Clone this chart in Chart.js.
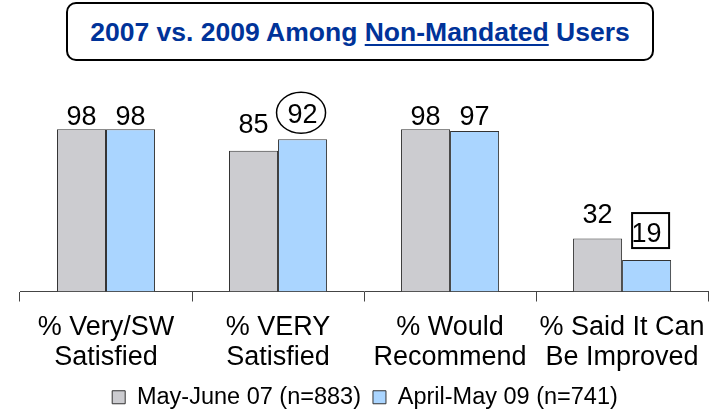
<!DOCTYPE html>
<html>
<head>
<meta charset="utf-8">
<script src="https://cdn.jsdelivr.net/npm/chart.js@4.4.1/dist/chart.umd.min.js"></script>
<style>
html,body{margin:0;padding:0;background:#fff;overflow:hidden;width:717px;height:410px;}
#wrap{position:absolute;left:0;top:0;width:717px;height:419px;}
#title{position:absolute;left:66px;top:2px;width:588px;height:59px;box-sizing:border-box;border:2.5px solid #000;border-radius:10px;background:#fff;
display:flex;align-items:center;justify-content:center;font-family:"Liberation Sans",Arial,sans-serif;font-weight:bold;font-size:26.5px;color:#003399;padding-top:2px;}
#title u{text-decoration-thickness:2px;text-underline-offset:3px;}
</style>
</head>
<body>
<div id="wrap"><canvas id="c"></canvas></div>
<div id="title"><span>2007 vs. 2009 Among <u>Non-Mandated</u> Users</span></div>
<script>
const categories = [["% Very/SW", "Satisfied"], ["% VERY", "Satisfied"], ["% Would", "Recommend"], ["% Said It Can", "Be Improved"]];
const seriesNames = ["May-June 07 (n=883)", "April-May 09 (n=741)"];
const may07 = [98, 85, 98, 32];
const apr09 = [98, 92, 97, 19];

const FONT = '"Liberation Sans", Arial, sans-serif';

// label gap above bars (style, per dataset/category)
const labelGaps = [[4, 18, 4, 16], [4, 16, 6, 18]];

const valueLabels = {
  id: 'valueLabels',
  afterDatasetsDraw(chart) {
    const ctx = chart.ctx;
    ctx.save();
    ctx.font = '27px ' + FONT;
    ctx.fillStyle = '#000';
    ctx.textAlign = 'center';
    ctx.textBaseline = 'alphabetic';
    chart.data.datasets.forEach((ds, di) => {
      const meta = chart.getDatasetMeta(di);
      meta.data.forEach((bar, i) => {
        const y = bar.y - labelGaps[di][i];
        const x = bar.x;
        ctx.fillText(String(ds.data[i]), x, y);
        if (di === 1 && i === 1) {
          ctx.save();
          ctx.strokeStyle = '#000';
          ctx.lineWidth = 1.5;
          ctx.beginPath();
          ctx.ellipse(x - 1.5, y - 10.5, 24.5, 20.5, 0, 0, Math.PI * 2);
          ctx.stroke();
          ctx.restore();
        }
        if (di === 1 && i === 3) {
          ctx.save();
          ctx.strokeStyle = '#000';
          ctx.lineWidth = 2;
          ctx.strokeRect(x - 14.5, y - 29, 37, 35);
          ctx.restore();
        }
      });
    });
    ctx.restore();
  }
};

new Chart(document.getElementById('c'), {
  type: 'bar',
  data: {
    labels: categories,
    datasets: [
      { label: seriesNames[0], data: may07, backgroundColor: '#CCCCD0', borderColor: '#333333', borderWidth: 1 },
      { label: seriesNames[1], data: apr09, backgroundColor: '#AAD5FF', borderColor: '#333333', borderWidth: 1 }
    ]
  },
  options: {
    responsive: true,
    maintainAspectRatio: false,
    animation: false,
    layout: { padding: { top: 126, left: 20, right: 7, bottom: 0 } },
    datasets: { bar: { categoryPercentage: 0.57, barPercentage: 1.0 } },
    scales: {
      x: {
        offset: true,
        afterFit: (scale) => { scale.height = 82; },
        grid: { offset: true, drawOnChartArea: false, drawTicks: true, tickLength: 10, color: '#444', lineWidth: 1 },
        border: { display: true, color: '#444', width: 1 },
        ticks: { color: '#000', font: { family: FONT, size: 27, lineHeight: 1.111 }, padding: 11.5, maxRotation: 0, autoSkip: false }
      },
      y: { display: false, min: 0, max: 100 }
    },
    plugins: {
      legend: {
        position: 'bottom',
        labels: { color: '#000', font: { family: FONT, size: 23.5 }, boxWidth: 13, boxHeight: 13, padding: 12 }
      },
      tooltip: { enabled: false },
      title: { display: false }
    }
  },
  plugins: [valueLabels]
});
</script>
</body>
</html>
